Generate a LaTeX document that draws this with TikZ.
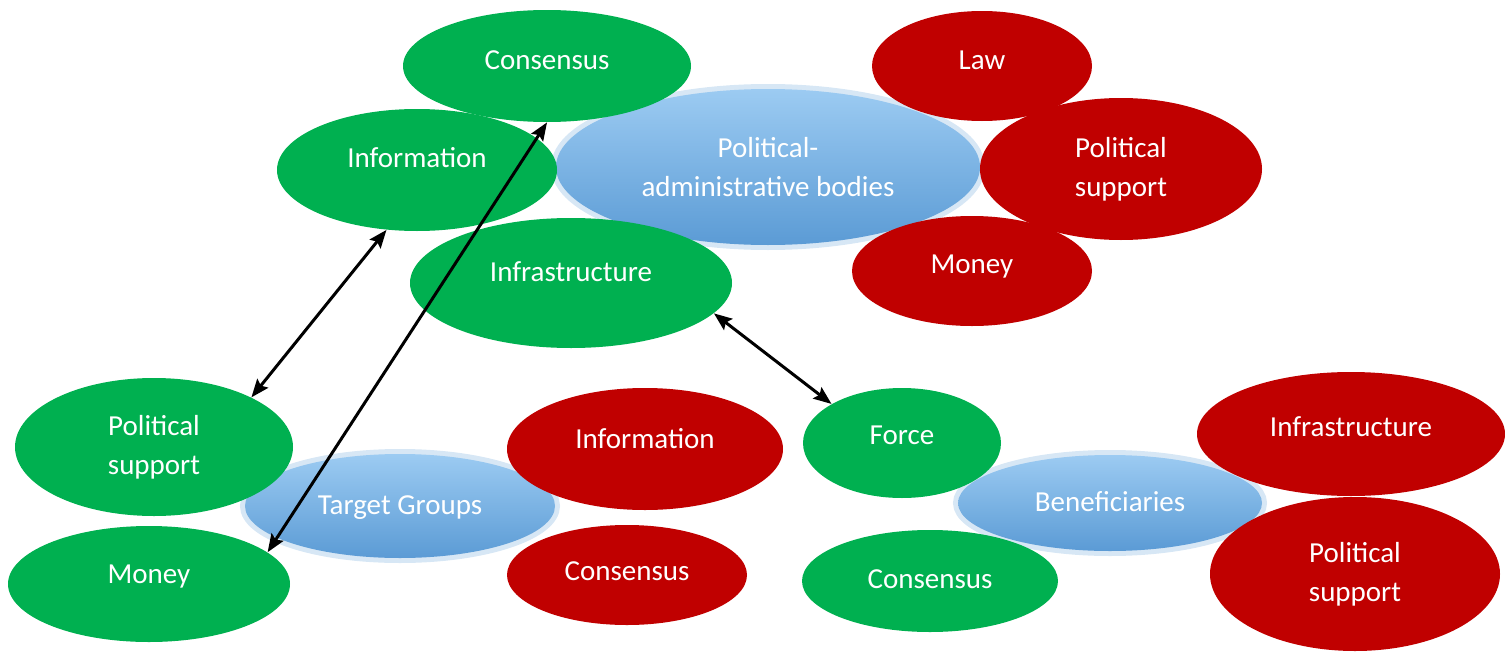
\documentclass[tikz,border=0pt]{standalone}
\usepackage{fontspec}
\setmainfont{Carlito}
\usetikzlibrary{
    shapes.geometric,
    arrows.meta
}
\definecolor{grn}{HTML}{00B050}
\definecolor{rd}{HTML}{C00000}
\definecolor{blu}{HTML}{5B9BD5}
\definecolor{blulight}{HTML}{9CCBF2}
\definecolor{bluglow}{HTML}{BDD7EE}

\begin{document}
\begin{tikzpicture}[x=0.5pt, y=-0.5pt, >={Stealth[length=9pt, width=7pt, inset=1.5pt]},
    blob/.style 2 args={ellipse, inner sep=0pt, minimum width=#1pt, minimum height=#2pt,
        text=white, align=center, font=\fontsize{14.5}{19.5}\selectfont},
    gblob/.style 2 args={blob={#1}{#2}, fill=grn},
    rblob/.style 2 args={blob={#1}{#2}, fill=rd},
    bblob/.style 2 args={blob={#1}{#2}, top color=blulight, bottom color=blu,
        preaction={draw=bluglow, line width=5pt, opacity=0.6}},
    lift/.style={text height=10pt, text depth=#1pt+0.6pt},
    link/.style={<->, line width=1.5pt}]
    \useasboundingbox (0, 0) rectangle (1505, 653);
    % political-administrative bodies
    \node[bblob={212}{78}] (pab) at (768, 167) {Political-\\administrative bodies};
    \node[gblob={144}{56}, lift=6] (cons) at (547, 66) {Consensus};
    \node[gblob={140}{61}, lift=12] (info) at (417, 170) {Information};
    \node[gblob={161}{65}, lift=11] (infra) at (571, 283) {Infrastructure};
    \node[rblob={110}{55}, lift=6] (law) at (982, 66) {Law};
    \node[rblob={141}{71}] (psup) at (1121, 169) {Political\\support};
    \node[rblob={120}{55}, lift=7] (mon) at (972, 271) {Money};
    % target groups
    \node[bblob={155}{52}, lift=1] (tg) at (400, 506) {Target Groups};
    \node[gblob={139}{69}] (gps) at (154, 447) {Political\\support};
    \node[gblob={141}{58}, lift=10] (gmon) at (149, 584) {Money};
    \node[rblob={138}{61}, lift=10] (rinfo) at (645, 449) {Information};
    \node[rblob={120}{50}, lift=4] (rcons) at (627, 575) {Consensus};
    % beneficiaries
    \node[bblob={152}{48}, lift=1] (ben) at (1110, 503) {Beneficiaries};
    \node[gblob={99}{55}, lift=8] (force) at (902, 443) {Force};
    \node[gblob={128}{51}, lift=2] (bcons) at (930, 581) {Consensus};
    \node[rblob={154}{62}, lift=7] (binfra) at (1351, 434) {Infrastructure};
    \node[rblob={145}{77}] (bps) at (1355, 574) {Political\\support};
    % exchanges
    \draw[link] (info.243) -- (gps.27);
    \draw[link] (cons.south) -- (gmon.15);
    \draw[link] (infra.-12) -- (force.151);
\end{tikzpicture}
\end{document}
